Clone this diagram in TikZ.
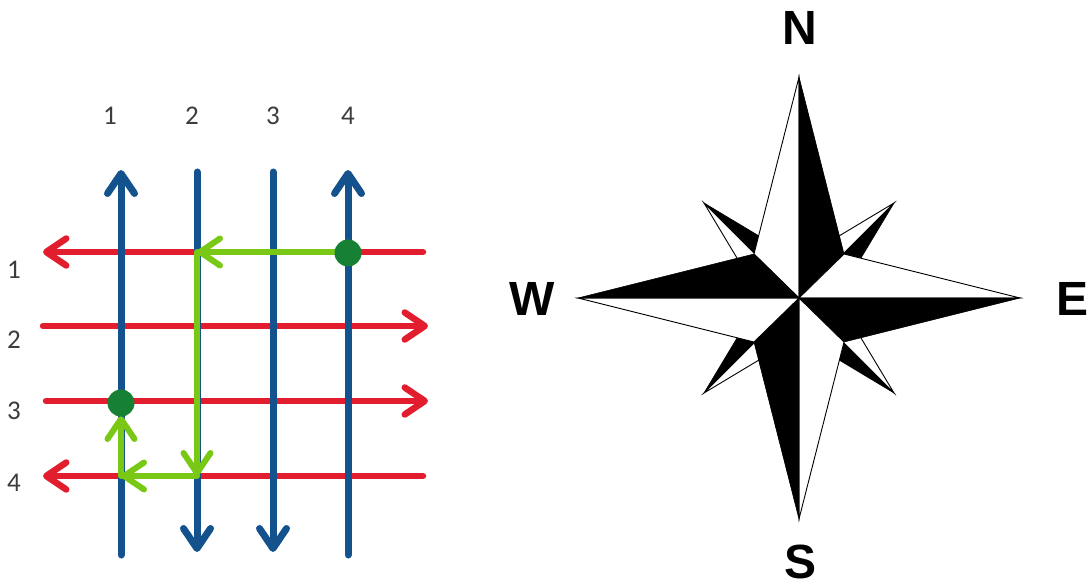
\documentclass[tikz,border=0pt]{standalone}
\usepackage{fontspec}
\setmainfont{Liberation Sans}
\newfontfamily\gridfont{Carlito}
\usetikzlibrary{arrows.meta}
\definecolor{gblue}{RGB}{20,82,142}
\definecolor{gred}{RGB}{226,30,46}
\definecolor{glight}{RGB}{122,200,22}
\definecolor{gdark}{RGB}{22,128,52}
\definecolor{glabel}{RGB}{60,60,60}
\tikzset{
  tipstyle/.style={-{Straight Barb[length=20pt,width=27pt,round]}},
  blueline/.style={draw=gblue,line width=7pt,line cap=round},
  redline/.style={draw=gred,line width=6.5pt,line cap=round},
  greenline/.style={draw=glight,line width=6pt,line cap=round},
  dot/.style={circle,fill=gdark,inner sep=0pt,minimum size=27pt},
  gridlabel/.style={font=\gridfont\fontsize{27}{27}\selectfont,text=glabel,inner sep=0pt},
  dirlabel/.style={font=\bfseries\fontsize{48}{48}\selectfont,inner sep=0pt},
  blackhalf/.style={fill=black,draw=black,line width=0.6pt,line join=miter},
  whitehalf/.style={fill=white,draw=black,line width=0.9pt,line join=miter},
}
\begin{document}
\begin{tikzpicture}[x=1pt,y=-1pt]
\useasboundingbox (0,0) rectangle (1090,588);
\fill[white] (0,0) rectangle (1090,588);

% ---- grid coordinates
\coordinate (h1a) at (423,252); \coordinate (h1b) at (43,252);
\coordinate (h2a) at (43,326);  \coordinate (h2b) at (428,326);
\coordinate (h3a) at (46,401);  \coordinate (h3b) at (428,401);
\coordinate (h4a) at (423,476); \coordinate (h4b) at (43,476);
\coordinate (v1a) at (121,555); \coordinate (v1b) at (121,170);
\coordinate (v2a) at (197,172); \coordinate (v2b) at (197,552);
\coordinate (v3a) at (273,172); \coordinate (v3b) at (273,552);
\coordinate (v4a) at (348,555); \coordinate (v4b) at (348,170);
\coordinate (p42) at (197,252); \coordinate (p24) at (197,476);
\coordinate (p14) at (121,476); \coordinate (p13end) at (121,416);

% red rows
\draw[redline,tipstyle] (h1a) -- (h1b);
\draw[redline,tipstyle] (h2a) -- (h2b);
\draw[redline,tipstyle] (h3a) -- (h3b);
\draw[redline,tipstyle] (h4a) -- (h4b);
% blue columns
\draw[blueline,tipstyle] (v1a) -- (v1b);
\draw[blueline,tipstyle] (v2a) -- (v2b);
\draw[blueline,tipstyle] (v3a) -- (v3b);
\draw[blueline,tipstyle] (v4a) -- (v4b);

% green route
\coordinate (startc) at (348,252);
\draw[greenline,tipstyle] (startc) -- (p42);
\draw[greenline,tipstyle] (p42) -- (p24);
\draw[greenline,tipstyle] (p24) -- (p14);
\draw[greenline,tipstyle] (p14) -- (p13end);
% dots
\node[dot] (start) at (348,253) {};
\node[dot] (goal) at (121,403) {};

% labels
\node[gridlabel] (t1) at (110,116) {1};
\node[gridlabel] (t2) at (192,116) {2};
\node[gridlabel] (t3) at (273,116) {3};
\node[gridlabel] (t4) at (348,116) {4};
\node[gridlabel] (l1) at (14,270) {1};
\node[gridlabel] (l2) at (14,340) {2};
\node[gridlabel] (l3) at (14,411) {3};
\node[gridlabel] (l4) at (14,483) {4};

% ---- compass rose
\begin{scope}[shift={(799,298)}]
  % small diagonal points
  \path[blackhalf] (-95,-95) -- (0,-38) -- (0,0) -- cycle;
  \path[whitehalf] (-95,-95) -- (-38,0) -- (0,0) -- cycle;
  \path[blackhalf] (95,-95) -- (38,0) -- (0,0) -- cycle;
  \path[whitehalf] (95,-95) -- (0,-38) -- (0,0) -- cycle;
  \path[blackhalf] (95,95) -- (0,38) -- (0,0) -- cycle;
  \path[whitehalf] (95,95) -- (38,0) -- (0,0) -- cycle;
  \path[blackhalf] (-95,95) -- (-38,0) -- (0,0) -- cycle;
  \path[whitehalf] (-95,95) -- (0,38) -- (0,0) -- cycle;
  % main points
  \path[whitehalf] (0,0) -- (0,-221) -- (-45,-44) -- cycle;
  \path[blackhalf] (0,0) -- (0,-221) -- (45,-44) -- cycle;
  \path[whitehalf] (0,0) -- (221,0) -- (45,-44) -- cycle;
  \path[blackhalf] (0,0) -- (221,0) -- (45,44) -- cycle;
  \path[whitehalf] (0,0) -- (0,221) -- (45,44) -- cycle;
  \path[blackhalf] (0,0) -- (0,221) -- (-45,44) -- cycle;
  \path[whitehalf] (0,0) -- (-221,0) -- (-45,44) -- cycle;
  \path[blackhalf] (0,0) -- (-221,0) -- (-45,-44) -- cycle;
\end{scope}
\node[dirlabel] (N) at (800,28) {N};
\node[dirlabel] (S) at (800,562) {S};
\node[dirlabel] (W) at (532,299) {W};
\node[dirlabel] (E) at (1072,299) {E};
\end{tikzpicture}
\end{document}
